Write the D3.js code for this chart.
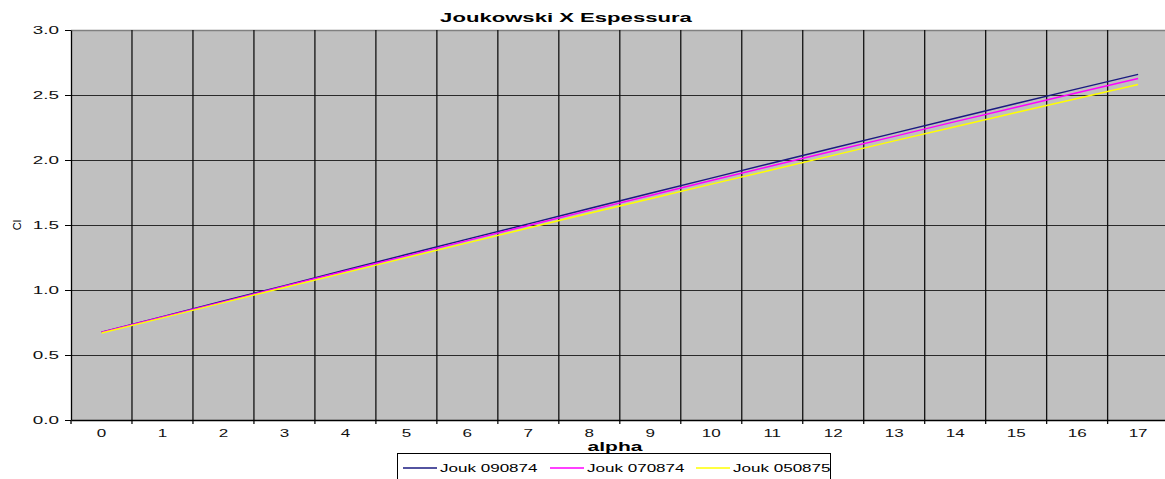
<!DOCTYPE html>
<html>
<head>
<meta charset="utf-8">
<script src="https://cdn.jsdelivr.net/npm/d3@7"></script>
<style>
  html, body { margin: 0; padding: 0; background: #fff; }
  svg { display: block; font-family: Arial, "Liberation Sans", sans-serif; }
</style>
</head>
<body>
<svg id="chart" width="1165" height="479"></svg>
<script>
// Angle of attack (degrees) – category axis
const alphaDeg = [0, 1, 2, 3, 4, 5, 6, 7, 8, 9, 10, 11, 12, 13, 14, 15, 16, 17];

// Lift coefficient for each Joukowski profile
const jouk090874 = [0.675, 0.795, 0.915, 1.034, 1.154, 1.273, 1.391, 1.509, 1.627,
                    1.744, 1.861, 1.977, 2.092, 2.207, 2.321, 2.435, 2.547, 2.659];
const jouk070874 = [0.675, 0.793, 0.911, 1.029, 1.146, 1.263, 1.380, 1.496, 1.612,
                    1.727, 1.842, 1.956, 2.069, 2.182, 2.295, 2.406, 2.517, 2.627];
const jouk050875 = [0.669, 0.786, 0.903, 1.019, 1.134, 1.249, 1.363, 1.477, 1.590,
                    1.702, 1.814, 1.925, 2.036, 2.147, 2.256, 2.365, 2.473, 2.581];

const seriesNames = ["Jouk 090874", "Jouk 070874", "Jouk 050875"];
const seriesColors = ["#1a1a80", "#ff00ff", "#ffff00"];
const yTicks = [0, 0.5, 1.0, 1.5, 2.0, 2.5, 3.0];

const series = [jouk090874, jouk070874, jouk050875].map((vals, i) => ({
  name: seriesNames[i],
  color: seriesColors[i],
  values: vals.map((v, j) => ({ a: alphaDeg[j], cl: v }))
}));

const svg = d3.select("#chart");
const plot = { left: 71, top: 30, right: 1168.6, bottom: 420 };

const x = d3.scaleBand()
  .domain(alphaDeg)
  .range([plot.left, plot.right])
  .paddingInner(0).paddingOuter(0);

const y = d3.scaleLinear().domain([0, 3]).range([plot.bottom, plot.top]);

// Plot area background
svg.append("rect")
  .attr("x", plot.left).attr("y", plot.top)
  .attr("width", plot.right - plot.left).attr("height", plot.bottom - plot.top)
  .attr("fill", "#c0c0c0");

// Horizontal gridlines
svg.append("g").selectAll("line")
  .data(yTicks.filter(t => t > 0 && t < 3))
  .join("line")
  .attr("x1", plot.left).attr("x2", plot.right)
  .attr("y1", d => Math.round(y(d)) + 0.5).attr("y2", d => Math.round(y(d)) + 0.5)
  .attr("stroke", "#2a2a2a").attr("stroke-width", 1);

// Top border
svg.append("line")
  .attr("x1", plot.left).attr("x2", plot.right)
  .attr("y1", plot.top + 0.5).attr("y2", plot.top + 0.5)
  .attr("stroke", "#808080").attr("stroke-width", 1.5);

// Vertical gridlines at category boundaries
svg.append("g").selectAll("line")
  .data(alphaDeg.slice(1))
  .join("line")
  .attr("x1", d => x(d)).attr("x2", d => x(d))
  .attr("y1", plot.top).attr("y2", plot.bottom + 4)
  .attr("stroke", "#111").attr("stroke-width", 1.3);

// Y axis
const yAxis = svg.append("g")
  .attr("transform", `translate(${plot.left},0)`)
  .call(d3.axisLeft(y).tickValues(yTicks).tickFormat(d3.format(".1f")).tickSize(6).tickSizeOuter(0));
yAxis.select(".domain").attr("stroke", "#000").attr("stroke-width", 1.3);
yAxis.selectAll(".tick line").attr("stroke", "#000");
yAxis.selectAll(".tick text")
  .attr("x", 0).attr("dy", "0.36em")
  .attr("transform", "translate(-12,0) scale(1.8,1)")
  .attr("font-size", 10.5).attr("fill", "#111").attr("font-family", "Arial, 'Liberation Sans', sans-serif");

// X axis (labels centred in each category)
const xAxis = svg.append("g")
  .attr("transform", `translate(0,${plot.bottom})`)
  .call(d3.axisBottom(x).tickSize(0).tickPadding(9).tickSizeOuter(0));
xAxis.select(".domain").attr("stroke", "#000").attr("stroke-width", 1.3);
xAxis.selectAll(".tick text")
  .each(function () {
    const t = d3.select(this);
    const yy = +t.attr("y");
    t.attr("y", 0).attr("transform", `translate(0,${yy}) scale(1.55,1)`);
  })
  .attr("font-size", 11).attr("fill", "#111").attr("font-family", "Arial, 'Liberation Sans', sans-serif");

// Left boundary tick below axis
svg.append("line")
  .attr("x1", plot.left).attr("x2", plot.left)
  .attr("y1", plot.bottom).attr("y2", plot.bottom + 4)
  .attr("stroke", "#000").attr("stroke-width", 1.3);

// Series lines
const line = d3.line()
  .x(d => x(d.a) + x.bandwidth() / 2)
  .y(d => y(d.cl));

svg.append("g").selectAll("path")
  .data(series)
  .join("path")
  .attr("d", d => line(d.values))
  .attr("fill", "none")
  .attr("stroke", d => d.color)
  .attr("stroke-width", 1.4);

// Title
svg.append("text")
  .attr("transform", "translate(566,22) scale(1.7,1)")
  .attr("text-anchor", "middle")
  .attr("font-size", 13).attr("font-weight", "bold").attr("fill", "#000")
  .text("Joukowski X Espessura");

// Axis titles
svg.append("text")
  .attr("transform", "translate(615,451) scale(1.75,1)")
  .attr("text-anchor", "middle")
  .attr("font-size", 12).attr("font-weight", "bold").attr("fill", "#000")
  .text("alpha");

svg.append("text")
  .attr("transform", "translate(21,225) rotate(-90)")
  .attr("text-anchor", "middle")
  .attr("font-size", 11).attr("fill", "#000")
  .text("Cl");

// Legend
const legend = svg.append("g");
legend.append("rect")
  .attr("x", 397.5).attr("y", 453.5).attr("width", 433).attr("height", 30)
  .attr("fill", "#fff").attr("stroke", "#000").attr("stroke-width", 1);

const legendX = [403, 550, 696];
const items = legend.selectAll("g.item")
  .data(series)
  .join("g")
  .attr("class", "item")
  .attr("transform", (d, i) => `translate(${legendX[i]},0)`);
items.append("line")
  .attr("x1", 0).attr("x2", 34)
  .attr("y1", 468).attr("y2", 468)
  .attr("stroke", d => d.color).attr("stroke-width", 1.5);
items.append("text")
  .attr("transform", "translate(37,472) scale(1.55,1)")
  .attr("font-size", 11).attr("fill", "#000")
  .text(d => d.name);
</script>
</body>
</html>
